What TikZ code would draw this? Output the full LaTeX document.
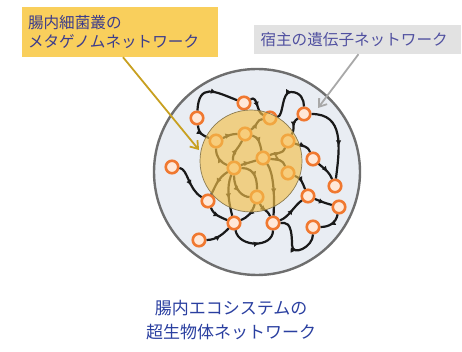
\documentclass[tikz,border=0pt]{standalone}
\usepackage{fontspec}
\setmainfont{Noto Sans CJK JP}
\usetikzlibrary{arrows.meta,decorations.markings}
\definecolor{outerfill}{HTML}{E9EDF3}
\definecolor{outerline}{HTML}{6E6E6E}
\definecolor{gutyellow}{HTML}{F3C04B}
\definecolor{gutline}{HTML}{8A7A50}
\definecolor{nodeorange}{HTML}{F07830}
\definecolor{nodefill}{HTML}{FFE8D8}
\definecolor{ylabfill}{HTML}{F9CF5C}
\definecolor{glabfill}{HTML}{E2E2E2}
\definecolor{labtext}{HTML}{3C3C8C}
\definecolor{glabtext}{HTML}{5050A0}
\definecolor{titletext}{HTML}{2A3FA0}
\definecolor{ypointer}{HTML}{C8A020}
\definecolor{gpointer}{HTML}{A8A8A8}
\tikzset{
  nd/.style={circle,draw=nodeorange,line width=2.6pt,fill=nodefill,minimum size=12.5pt,inner sep=0pt},
  edge/.style={draw=black!90,line width=2.2pt,
    postaction={decorate,decoration={markings,mark=at position 0.6 with {\arrow{Latex[length=6pt,width=5.5pt]}}}}},
  ybox/.style={fill=ylabfill,minimum width=196pt,minimum height=50pt,text width=184pt,align=left,
    font=\fontsize{15.6}{18.5}\selectfont,text=labtext,inner sep=0pt},
  gbox/.style={fill=glabfill,minimum width=207pt,minimum height=29pt,text width=194pt,align=left,
    font=\fontsize{15.6}{18.5}\selectfont,text=glabtext,inner sep=0pt},
  title/.style={align=center,font=\fontsize{17}{24}\selectfont,text=titletext},
}
\begin{document}
\begin{tikzpicture}[x=1pt,y=-1pt]
\useasboundingbox (0,0) rectangle (462,352);
% host circle
\filldraw[fill=outerfill,draw=outerline,line width=2.4pt] (257,172) circle (103);
% nodes
\node[nd] (A) at (244,103) {};
\node[nd] (B) at (197,118) {};
\node[nd] (C) at (270,118) {};
\node[nd] (D) at (304,114) {};
\node[nd] (E) at (216,141) {};
\node[nd] (F) at (245,134) {};
\node[nd] (G) at (288,141) {};
\node[nd] (H) at (263,158) {};
\node[nd] (I) at (313,159) {};
\node[nd] (J) at (234,168) {};
\node[nd] (K) at (288,173) {};
\node[nd] (L) at (172,167) {};
\node[nd] (M) at (335,186) {};
\node[nd] (N) at (257,197) {};
\node[nd] (O) at (208,201) {};
\node[nd] (P) at (308,196) {};
\node[nd] (Q) at (339,207) {};
\node[nd] (R) at (234,223) {};
\node[nd] (S) at (273,223) {};
\node[nd] (T) at (313,227) {};
\node[nd] (U) at (199,240) {};
% edges
\path[edge] (B) .. controls +(2,-35) and +(-30,-12) .. (A);
\path[edge] (A) .. controls +(14,-8) and +(-14,-6) .. (C);
\path[edge] (C) .. controls +(14,-2) and +(-10,0) .. (291,92) .. controls +(10,0) and +(0,-14) .. (D);
\path[edge] (D) .. controls +(40,0) and +(5,-40) .. (M);
\path[edge] (D) .. controls +(-14,10) and +(8,-14) .. (G);
\path[edge] (G) .. controls +(16,6) and +(-6,-14) .. (I);
\path[edge] (I) .. controls +(14,12) and +(-6,-14) .. (M);
\path[edge] (B) .. controls +(2,16) and +(-14,-6) .. (E);
\path[edge] (E) .. controls +(14,-6) and +(-14,0) .. (F);
\path[edge] (F) .. controls +(14,-10) and +(-14,2) .. (C);
\path[edge] (F) .. controls +(14,3) and +(-3,-14) .. (H);
\path[edge] (H) .. controls +(14,-6) and +(-6,14) .. (G);
\path[edge] (J) .. controls +(-14,-6) and +(0,16) .. (E);
\path[edge] (J) .. controls +(-2,-16) and +(-6,14) .. (F);
\path[edge] (J) .. controls +(14,-6) and +(-14,5) .. (H);
\path[edge] (J) .. controls +(0,22) and +(-14,0) .. (N);
\path[edge] (J) .. controls +(22,0) and +(0,-16) .. (N);
\path[edge] (H) .. controls +(16,2) and +(-6,-14) .. (K);
\path[edge] (H) .. controls +(10,14) and +(2,-30) .. (S);
\path[edge] (K) .. controls +(14,6) and +(-6,-14) .. (P);
\path[edge] (P) .. controls +(14,6) and +(-14,-4) .. (Q);
\path[edge] (Q) .. controls +(-3,16) and +(16,0) .. (T);
\path[edge] (S) .. controls +(12,0) and +(0,-25) .. (292,245) .. controls +(0,12) and +(0,20) .. (T);
\path[edge] (N) .. controls +(6,14) and +(-6,-14) .. (S);
\path[edge] (S) .. controls +(16,-6) and +(-14,10) .. (P);
\path[edge] (L) .. controls +(16,2) and +(-20,-12) .. (O);
\path[edge] (O) .. controls +(6,14) and +(-14,-6) .. (R);
\path[edge] (U) .. controls +(18,0) and +(-10,10) .. (R);
\path[edge] (R) .. controls +(5,25) and +(0,25) .. (S);
\path[edge] (J) .. controls +(-16,10) and +(8,-16) .. (O);
\path[edge] (N) .. controls +(-5,16) and +(14,-6) .. (R);
\path[edge] (J) .. controls +(-8,20) and +(-5,-20) .. (R);
% microbial circle (translucent)
\filldraw[fill=gutyellow,fill opacity=0.65,draw=gutline,line width=0.7pt] (251,161) circle (51);
% labels
\node[ybox] (ylab) at (120,32) {腸内細菌叢の\\メタゲノムネットワーク};
\node[gbox] (glab) at (357.5,39.5) {宿主の遺伝子ネットワーク};
\coordinate (ytip) at (199,150);
\coordinate (gtip) at (318,108);
\draw[ypointer,line width=1.8pt,-{Straight Barb[length=7pt,width=10pt]}] (ylab.south) ++(3,0) coordinate (ystart) (ystart) -- (ytip);
\draw[gpointer,line width=1.8pt,-{Straight Barb[length=7pt,width=10pt]}] (glab.south) ++(1,0) coordinate (gstart) (gstart) -- (gtip);
% title
\node[title] (ttl) at (231,320) {腸内エコシステムの\\超生物体ネットワーク};
\end{tikzpicture}
\end{document}
